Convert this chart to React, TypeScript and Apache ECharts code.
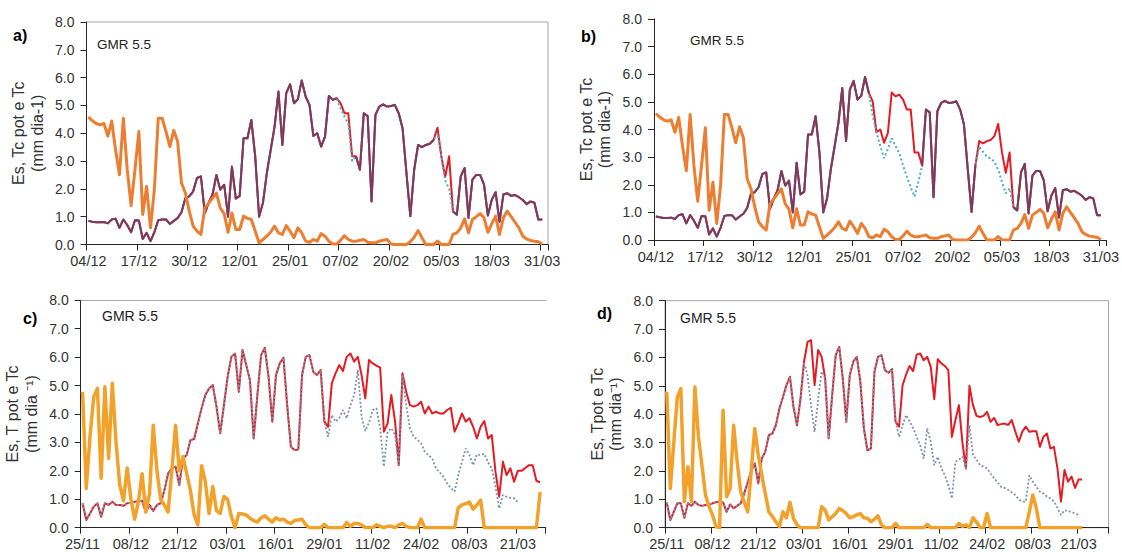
import React, { useEffect, useRef } from "react";
import * as echarts from "echarts";

const W = 1122;
const H = 552;
const FONT = '"Liberation Sans", Arial, sans-serif';

function dateLabels(y: number, m: number, d: number, n: number): string[] {
  const out: string[] = [];
  for (let i = 0; i < n; i++) {
    const dt = new Date(Date.UTC(y, m, d + i));
    out.push(String(dt.getUTCDate()).padStart(2, "0") + "/" + String(dt.getUTCMonth() + 1).padStart(2, "0"));
  }
  return out;
}

// category days (tick labels every 13 days)
const daysAB = dateLabels(2014, 11, 4, 119);
const daysC = dateLabels(2015, 10, 25, 125);
const daysD = dateLabels(2015, 10, 25, 126);

// ---- panels a & b (04/12 - 31/03) ----
const tpotAB = [
  0.85, 0.82, 0.8, 0.8, 0.81, 0.76, 0.9, 0.93, 0.6, 0.9,
  0.7, 0.44, 0.87, 0.86, 0.2, 0.42, 0.12, 0.44, 0.87, 0.9,
  0.9, 0.74, 0.85, 0.95, 1.16, 1.67, 1.73, 1.91, 2.39, 2.45,
  1.13, 1.5, 1.8, 2.5, 1.97, 2.15, 1.0, 2.8, 1.65, 1.75,
  3.82, 3.82, 4.48, 3.17, 1.0, 1.5, 2.57, 3.4, 4.24, 5.5,
  3.58, 5.44, 5.76, 5.08, 5.22, 5.9, 5.32, 5.02, 3.9, 4.0,
  3.52, 3.88, 5.34, 5.2, 5.26, 5.08, 4.72, 4.72, 3.17, 3.17,
  2.69, 4.72, 4.62, 1.55, 4.66, 4.96, 5.04, 4.96, 4.98, 5.02,
  4.72, 4.18, 2.57, 1.02, 2.69, 3.58, 3.5, 3.58, 3.62, 3.76,
  4.2, 3.17, 2.43, 3.17, 1.19, 1.07, 2.45, 2.75, 0.96, 2.33,
  2.5, 2.5, 2.15, 1.04, 1.61, 1.88, 0.81, 1.8, 1.84, 1.75,
  1.78, 1.7, 1.6, 1.45, 1.55, 1.5, 0.9, 0.9,
];
const tcA = [
  0.85, 0.82, 0.8, 0.8, 0.81, 0.76, 0.9, 0.93, 0.6, 0.9,
  0.7, 0.44, 0.87, 0.86, 0.2, 0.42, 0.12, 0.44, 0.87, 0.9,
  0.9, 0.74, 0.85, 0.95, 1.16, 1.67, 1.73, 1.91, 2.39, 2.45,
  1.13, 1.5, 1.8, 2.5, 1.97, 2.15, 1.0, 2.8, 1.65, 1.75,
  3.82, 3.82, 4.48, 3.17, 1.0, 1.5, 2.57, 3.4, 4.24, 5.5,
  3.58, 5.44, 5.76, 5.08, 5.22, 5.9, 5.32, 5.02, 3.9, 4.0,
  3.52, 3.88, 5.34, 5.2, 5.26, 4.9, 4.6, 4.35, 3.0, 3.17,
  2.69, 4.72, 4.62, 1.55, 4.66, 4.96, 5.04, 4.96, 4.98, 5.02,
  4.72, 4.18, 2.57, 1.02, 2.69, 3.58, 3.5, 3.58, 3.62, 3.76,
  4.0, 3.17, 2.3, 2.0, 1.19, 1.07, 2.45, 2.75, 0.96, 2.33,
  2.5, 2.5, 2.15, 1.04, 1.61, 1.88, 0.81, 1.8, 1.84, 1.75,
  1.78, 1.7, 1.6, 1.45, 1.55, 1.5, 0.9, 0.9,
];
const tcB = [
  0.85, 0.82, 0.8, 0.8, 0.81, 0.76, 0.9, 0.93, 0.6, 0.9,
  0.7, 0.44, 0.87, 0.86, 0.2, 0.42, 0.12, 0.44, 0.87, 0.9,
  0.9, 0.74, 0.85, 0.95, 1.16, 1.67, 1.73, 1.91, 2.39, 2.45,
  1.13, 1.5, 1.8, 2.5, 1.97, 2.15, 1.0, 2.8, 1.65, 1.75,
  3.82, 3.82, 4.48, 3.17, 1.0, 1.5, 2.57, 3.4, 4.24, 5.5,
  3.58, 5.44, 5.76, 5.08, 5.22, 5.9, 5.32, 4.5, 3.9, 3.4,
  2.96, 3.3, 3.68, 3.4, 3.14, 2.7, 2.29, 1.9, 1.57, 2.1,
  2.69, 4.72, 4.62, 1.55, 4.66, 4.96, 5.04, 4.96, 4.98, 5.02,
  4.72, 4.18, 2.57, 1.02, 2.69, 3.38, 3.2, 3.02, 2.95, 2.84,
  2.54, 2.1, 1.69, 1.87, 1.19, 1.07, 2.45, 2.75, 0.96, 2.33,
  2.5, 2.5, 2.15, 1.04, 1.61, 1.88, 0.81, 1.8, 1.84, 1.75,
  1.78, 1.7, 1.6, 1.45, 1.55, 1.5, 0.9, 0.9,
];
const esAB = [
  4.58, 4.45, 4.35, 4.3, 4.35, 3.9, 4.44, 3.4, 2.51, 4.54,
  2.69, 1.4, 2.69, 4.06, 1.08, 2.09, 0.6, 1.97, 4.54, 4.54,
  4.06, 3.52, 4.1, 3.7, 2.21, 1.85, 1.2, 0.66, 0.48, 0.36,
  1.31, 1.49, 1.67, 1.85, 1.31, 1.11, 0.44, 1.13, 0.54, 0.54,
  1.02, 0.94, 0.9, 0.48, 0.06, 0.18, 0.3, 0.45, 0.66, 0.42,
  0.36, 0.68, 0.48, 0.24, 0.6, 0.42, 0.12, 0.08, 0.18, 0.12,
  0.39, 0.3, 0.12, 0.02, 0.02, 0.15, 0.32, 0.18, 0.12, 0.12,
  0.15, 0.18, 0.08, 0.06, 0.06, 0.12, 0.15, 0.18, 0.02, 0.0,
  0.0, 0.0, 0.0, 0.1, 0.26, 0.5, 0.24, 0.0, 0.0, 0.0,
  0.12, 0.0, 0.0, 0.0, 0.36, 0.42, 0.6, 0.92, 0.42, 0.9,
  1.0, 1.11, 0.96, 0.44, 0.75, 1.02, 0.36, 0.96, 1.2, 1.0,
  0.8, 0.6, 0.3, 0.2, 0.14, 0.12, 0.1, 0.02,
];

// ---- panel c (25/11 - 27/03) ----
const tpotC = [
  0.86, 0.27, 0.5, 0.74, 0.86, 0.39, 0.86, 0.8, 0.91, 0.8,
  0.8, 0.77, 0.86, 0.88, 0.91, 0.93, 0.95, 0.55, 0.8, 0.59,
  0.8, 0.86, 1.32, 1.91, 2.09, 2.15, 1.5, 2.44, 2.56, 3.08,
  3.12, 3.67, 4.2, 4.67, 4.9, 5.02, 4.26, 3.32, 4.31, 5.31,
  6.01, 6.13, 4.78, 6.25, 5.72, 5.19, 3.14, 4.67, 6.07, 6.33,
  5.31, 3.73, 5.37, 5.78, 5.98, 4.31, 2.85, 2.73, 2.75, 5.37,
  6.01, 6.07, 5.49, 5.37, 5.55, 3.73, 3.55, 5.08, 5.43, 5.72,
  5.51, 6.01, 6.13, 5.84, 6.01, 5.37, 4.55, 5.9, 5.78, 5.7,
  5.63, 3.38, 3.67, 4.67, 3.73, 2.2, 5.43, 4.78, 4.31, 4.26,
  4.31, 4.43, 4.02, 4.26, 4.02, 4.08, 4.02, 4.02, 4.14, 4.22,
  3.38, 3.67, 4.02, 3.73, 3.85, 3.55, 3.14, 3.55, 3.75, 3.14,
  3.26, 1.97, 1.09, 2.32, 1.85, 2.09, 1.62, 2.0, 2.0, 2.1,
  2.2, 2.2, 1.65, 1.6,
];
const tcC = [
  0.86, 0.27, 0.5, 0.74, 0.86, 0.39, 0.86, 0.8, 0.91, 0.8,
  0.8, 0.77, 0.86, 0.88, 0.91, 0.93, 0.95, 0.55, 0.8, 0.59,
  0.8, 0.86, 1.32, 1.91, 2.09, 2.15, 1.5, 2.44, 2.56, 3.08,
  3.12, 3.67, 4.2, 4.67, 4.9, 5.02, 4.26, 3.32, 4.31, 5.31,
  6.01, 6.13, 4.78, 6.25, 5.72, 5.19, 3.14, 4.67, 6.07, 6.33,
  5.31, 3.73, 5.37, 5.78, 5.98, 4.31, 2.85, 2.73, 2.75, 5.37,
  6.01, 6.07, 5.49, 5.37, 5.55, 3.73, 3.2, 3.96, 3.73, 3.85,
  4.14, 3.85, 4.31, 4.67, 5.55, 3.9, 3.4, 3.7, 4.14, 4.2,
  3.5, 2.15, 3.38, 3.5, 3.26, 2.2, 5.37, 4.31, 3.5, 3.2,
  3.1, 2.97, 2.67, 2.55, 2.44, 2.09, 1.95, 1.79, 1.56, 1.4,
  1.27, 1.85, 2.32, 2.79, 2.56, 2.2, 2.58, 2.56, 2.6, 2.3,
  2.09, 1.44, 0.68, 1.15, 1.09, 1.05, 1.03, 0.9,
];
const esC = [
  4.78, 1.38, 3.2, 4.6, 4.9, 1.74, 4.96, 2.44, 5.08, 3.0,
  1.5, 0.95, 2.1, 1.0, 0.3, 0.9, 1.9, 0.55, 1.2, 3.6,
  2.0, 1.0, 0.8, 0.55, 2.0, 3.6, 2.0, 2.5, 1.9, 1.3,
  0.45, 0.1, 2.18, 1.62, 0.5, 1.45, 0.6, 0.5, 1.1, 1.0,
  0.4, 0.0, 0.5, 0.48, 0.45, 0.33, 0.25, 0.2, 0.35, 0.42,
  0.3, 0.2, 0.35, 0.27, 0.3, 0.2, 0.15, 0.25, 0.27, 0.3,
  0.1, 0.0, 0.0, 0.0, 0.0, 0.12, 0.0, 0.0, 0.0, 0.0,
  0.0, 0.18, 0.05, 0.15, 0.15, 0.1, 0.0, 0.0, 0.0, 0.1,
  0.05, 0.0, 0.05, 0.05, 0.0, 0.1, 0.15, 0.05, 0.0, 0.0,
  0.0, 0.3, 0.0, 0.0, 0.0, 0.0, 0.0, 0.0, 0.0, 0.0,
  0.0, 0.7, 0.8, 0.85, 0.9, 0.65, 0.8, 0.97, 0.0, 0.0,
  0.0, 0.0, 0.0, 0.0, 0.0, 0.0, 0.0, 0.0, 0.0, 0.0,
  0.0, 0.0, 0.0, 1.25,
];

// ---- panel d (25/11 - 23/03) ----
const tpotD = [
  0.89, 0.27, 0.56, 0.86, 0.86, 0.35, 0.86, 0.77, 0.92, 0.8,
  0.77, 0.8, 0.8, 0.86, 0.9, 0.92, 0.89, 0.56, 0.82, 0.68,
  0.77, 0.86, 1.2, 1.6, 2.0, 2.27, 1.56, 2.44, 2.68, 3.26,
  3.32, 3.61, 4.2, 4.6, 5.02, 5.32, 4.26, 3.61, 4.55, 5.85,
  6.55, 6.61, 5.02, 6.26, 6.02, 5.26, 3.15, 4.67, 6.08, 6.37,
  5.26, 3.73, 5.38, 5.85, 6.02, 5.14, 3.5, 2.73, 2.79, 5.49,
  6.02, 6.08, 5.55, 5.46, 5.59, 3.73, 3.56, 5.02, 5.4, 5.7,
  5.52, 6.1, 6.14, 5.9, 6.02, 5.67, 4.53, 5.94, 5.79, 5.7,
  5.55, 3.2, 3.79, 4.32, 3.0, 2.09, 5.0, 4.32, 3.94, 3.9,
  3.94, 4.08, 3.73, 3.87, 3.62, 3.65, 3.67, 3.62, 3.79, 3.4,
  3.03, 3.38, 3.56, 3.38, 3.4, 3.4, 2.85, 3.2, 3.32, 2.79,
  2.85, 2.09, 0.92, 2.03, 1.62, 1.8, 1.4, 1.7, 1.7,
];
const tcD = [
  0.89, 0.27, 0.56, 0.86, 0.86, 0.35, 0.86, 0.77, 0.92, 0.8,
  0.77, 0.8, 0.8, 0.86, 0.9, 0.92, 0.89, 0.56, 0.82, 0.68,
  0.77, 0.86, 1.2, 1.6, 2.0, 2.27, 1.56, 2.44, 2.68, 3.26,
  3.32, 3.61, 4.2, 4.6, 5.02, 5.32, 4.26, 3.61, 4.55, 5.85,
  5.35, 4.3, 3.38, 4.5, 5.5, 5.26, 3.15, 4.67, 6.08, 6.37,
  5.26, 3.73, 5.38, 5.85, 6.02, 5.14, 3.5, 2.73, 2.79, 5.49,
  6.02, 6.08, 5.55, 5.46, 5.59, 3.73, 3.2, 3.6, 3.97, 3.75,
  3.5, 3.2, 2.9, 2.44, 3.5, 3.03, 2.2, 2.5, 2.1, 1.85,
  1.5, 1.03, 2.32, 2.4, 2.5, 2.09, 3.61, 2.56, 2.4, 2.2,
  2.15, 2.09, 1.9, 1.74, 1.6, 1.44, 1.4, 1.33, 1.25, 1.15,
  1.0, 0.92, 0.92, 1.85, 1.62, 1.45, 1.27, 1.21, 1.1, 1.03,
  0.92, 0.7, 0.45, 0.62, 0.58, 0.56, 0.5, 0.45,
];
const esD = [
  4.79, 1.38, 3.0, 4.6, 4.9, 0.92, 2.15, 0.92, 4.96, 3.2,
  2.2, 1.15, 0.75, 0.45, 0.04, 0.0, 4.14, 1.09, 1.38, 3.61,
  2.32, 1.27, 0.9, 0.56, 2.0, 3.5, 2.56, 1.85, 1.2, 0.56,
  0.4, 0.21, 0.04, 0.56, 0.35, 0.89, 0.33, 0.1, 0.0, 0.0,
  0.0, 0.0, 0.0, 0.0, 0.74, 0.62, 0.27, 0.39, 0.5, 0.68,
  0.6, 0.5, 0.35, 0.39, 0.45, 0.5, 0.35, 0.33, 0.21, 0.3,
  0.42, 0.1, 0.0, 0.0, 0.0, 0.15, 0.0, 0.0, 0.0, 0.0,
  0.0, 0.0, 0.0, 0.0, 0.12, 0.0, 0.0, 0.0, 0.0, 0.0,
  0.0, 0.0, 0.0, 0.15, 0.05, 0.1, 0.0, 0.35, 0.2, 0.0,
  0.0, 0.5, 0.0, 0.0, 0.0, 0.0, 0.0, 0.0, 0.0, 0.0,
  0.0, 0.0, 0.0, 0.56, 1.15, 0.68, 0.0, 0.0, 0.0, 0.0,
  0.0, 0.0, 0.0, 0.0, 0.0, 0.0, 0.0, 0.0, 0.0,
];

const RED = "#E31B23";
const MAROON = "#7B3A5E";
const AQUA = "#4BACC6";
const BLUEGRAY = "#7F92AD";
const ORANGE_AB = "#ED7D31";
const ORANGE_CD = "#F2A22A";
const AXIS = "#262626";
const LABEL = "#333333";
const BOX = "#A6A6A6";

type Panel = {
  grid: { left: number; top: number; width: number; height: number };
  days: string[];
  tpot: number[];
  tc: number[];
  es: number[];
  ab: boolean;
  box: boolean;
  topLine: boolean;
  yName: string;
  letter: string;
  letterPos: [number, number];
  gmrPos: [number, number];
  gmrSize: number;
};

const panels: Panel[] = [
  {
    grid: { left: 86.5, top: 22, width: 461.5, height: 222.5 },
    days: daysAB, tpot: tpotAB, tc: tcA, es: esAB, ab: true, box: true, topLine: false,
    yName: "Es, Tc pot e Tc\n(mm dia-1)", letter: "a)", letterPos: [13, 35], gmrPos: [97, 44], gmrSize: 13.5,
  },
  {
    grid: { left: 654, top: 19, width: 454.5, height: 221 },
    days: daysAB, tpot: tpotAB, tc: tcB, es: esAB, ab: true, box: false, topLine: false,
    yName: "Es, Tc pot e Tc\n(mm dia-1)", letter: "b)", letterPos: [581, 36], gmrPos: [690, 40], gmrSize: 13.5,
  },
  {
    grid: { left: 80.7, top: 300.3, width: 465, height: 227.4 },
    days: daysC, tpot: tpotC, tc: tcC, es: esC, ab: false, box: false, topLine: true,
    yName: "Es, T pot e Tc\n(mm dia ⁻¹)", letter: "c)", letterPos: [23, 318], gmrPos: [102, 316], gmrSize: 14,
  },
  {
    grid: { left: 665, top: 300.7, width: 443.5, height: 227 },
    days: daysD, tpot: tpotD, tc: tcD, es: esD, ab: false, box: true, topLine: false,
    yName: "Es, Tpot e Tc\n(mm dia⁻¹)", letter: "d)", letterPos: [597, 313], gmrPos: [680, 318], gmrSize: 14,
  },
];

function buildOption(): any {
  const grids: any[] = [];
  const xAxes: any[] = [];
  const yAxes: any[] = [];
  const series: any[] = [];
  const graphics: any[] = [];

  panels.forEach((p, k) => {
    grids.push({
      left: p.grid.left, top: p.grid.top, width: p.grid.width, height: p.grid.height,
      show: p.box, borderColor: BOX, borderWidth: 1, backgroundColor: "transparent",
    });
    xAxes.push({
      type: "category", gridIndex: k, data: p.days, boundaryGap: true,
      axisLine: { show: true, lineStyle: { color: AXIS, width: 1 } },
      axisTick: { show: true, interval: 12, length: 6, lineStyle: { color: AXIS } },
      axisLabel: { interval: 12, fontSize: 14.5, fontFamily: FONT, color: LABEL, margin: 9 },
      splitLine: { show: false },
    });
    yAxes.push({
      type: "value", gridIndex: k, min: 0, max: 8, interval: 1,
      axisLine: { show: true, lineStyle: { color: AXIS, width: 1 } },
      axisTick: { show: true, length: 6, lineStyle: { color: AXIS } },
      axisLabel: { fontSize: 14, fontFamily: FONT, color: LABEL, margin: 12, formatter: (v: number) => v.toFixed(1) },
      splitLine: { show: false },
      name: p.yName, nameLocation: "middle", nameRotate: 90, nameGap: 40,
      nameTextStyle: { fontSize: 16, lineHeight: 18.5, fontFamily: FONT, color: LABEL, align: "center" },
    });

    const common = { xAxisIndex: k, yAxisIndex: k, type: "line", symbol: "none", silent: true };
    series.push({ ...common, name: "Tpot" + k, data: p.tpot, lineStyle: { color: RED, width: 2, join: "round" } });
    if (p.ab) {
      series.push({ ...common, name: "Tc" + k, data: p.tc, lineStyle: { color: AQUA, width: 2, type: [2, 2.5] } });
      const overlap = p.tpot.map((v, i) => (v === p.tc[i] ? v : null));
      series.push({ ...common, name: "Ov" + k, data: overlap, lineStyle: { color: MAROON, width: 2, join: "round" } });
    } else {
      series.push({ ...common, name: "Tc" + k, data: p.tc, lineStyle: { color: BLUEGRAY, width: 1.8, type: [2, 2] } });
    }
    series.push({
      ...common, name: "Es" + k, data: p.es,
      lineStyle: { color: p.ab ? ORANGE_AB : ORANGE_CD, width: p.ab ? 3 : 3.5, join: "round" },
    });

    graphics.push({
      type: "text", x: p.letterPos[0], y: p.letterPos[1],
      style: { text: p.letter, font: `bold 16px ${FONT}`, fill: "#000", verticalAlign: "middle" },
    });
    graphics.push({
      type: "text", x: p.gmrPos[0], y: p.gmrPos[1],
      style: { text: "GMR 5.5", font: `${p.gmrSize}px ${FONT}`, fill: "#222", verticalAlign: "middle" },
    });
  });

  // top frame line for panel c
  panels.forEach((p, k) => {
    if (p.topLine) {
      xAxes.push({
        type: "value", gridIndex: k, position: "top", min: 0, max: 1,
        axisLine: { show: true, lineStyle: { color: BOX, width: 1 } },
        axisTick: { show: false }, axisLabel: { show: false }, splitLine: { show: false },
      });
    }
  });

  return {
    animation: false,
    backgroundColor: "#fff",
    grid: grids,
    xAxis: xAxes,
    yAxis: yAxes,
    series,
    graphic: graphics,
  };
}

export default function App() {
  const ref = useRef<HTMLDivElement>(null);
  useEffect(() => {
    document.body.style.margin = "0";
    const chart = echarts.init(ref.current!, null, { renderer: "svg", width: W, height: H });
    chart.setOption(buildOption());
    return () => chart.dispose();
  }, []);
  return <div ref={ref} style={{ width: W, height: H, position: "absolute", left: 0, top: 0, background: "#fff" }} />;
}
